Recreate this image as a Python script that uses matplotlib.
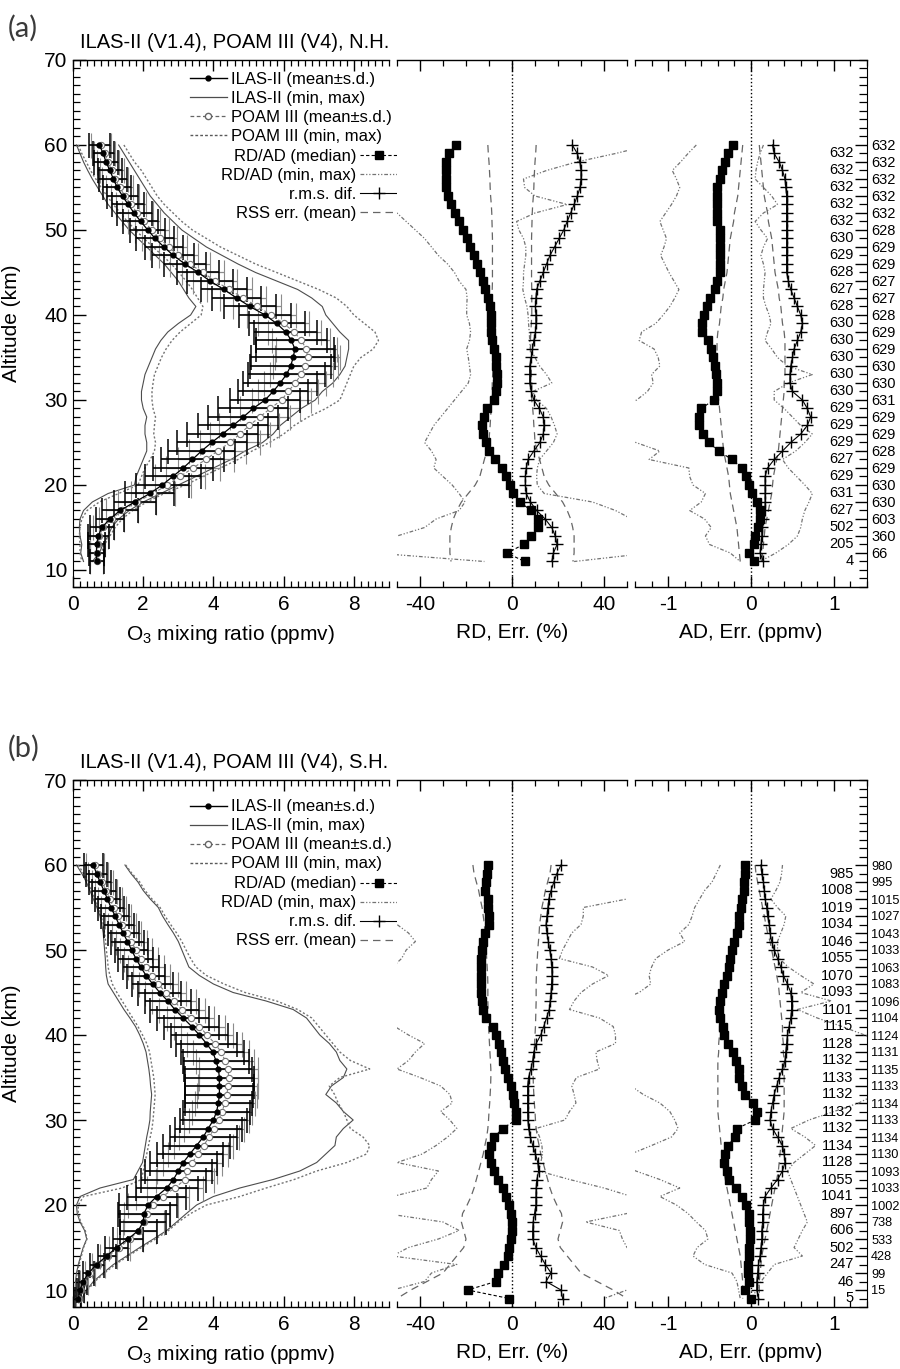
import numpy as np
import matplotlib
matplotlib.use("Agg")
import matplotlib.pyplot as plt
from matplotlib.lines import Line2D
from matplotlib.ticker import MultipleLocator, FixedLocator
from matplotlib.transforms import blended_transform_factory

plt.rcParams['font.family'] = ['Liberation Sans', 'DejaVu Sans']
plt.rcParams['mathtext.default'] = 'regular'
plt.rcParams['axes.unicode_minus'] = False

# ---------------- (a) northern hemisphere ----------------
alt_a = np.arange(60, 10, -1)          # 60 ... 11 km

ilas_a = [0.75, 0.86, 0.94, 1.05, 1.15, 1.26, 1.41, 1.57, 1.74, 1.93,
          2.13, 2.34, 2.59, 2.86, 3.19, 3.57, 3.9, 4.3, 4.66, 5.04,
          5.47, 5.8, 6.06, 6.22, 6.32, 6.27, 6.2, 6.08, 5.9, 5.7,
          5.47, 5.13, 4.85, 4.56, 4.26, 3.95, 3.66, 3.4, 3.14, 2.84,
          2.54, 2.19, 1.76, 1.34, 1.05, 0.82, 0.72, 0.67, 0.67, 0.67]
ilas_sd_a = [0.3, 0.3, 0.35, 0.35, 0.4, 0.4, 0.45, 0.45, 0.5, 0.5,
             0.5, 0.55, 0.55, 0.6, 0.6, 0.6, 0.65, 0.65, 0.7, 0.75,
             0.75, 0.8, 0.9, 1.0, 1.1, 1.2, 1.15, 1.1, 1.05, 1.0,
             1.0, 1.0, 1.0, 1.0, 1.0, 1.0, 0.95, 0.9, 0.85, 0.8,
             0.75, 0.7, 0.6, 0.5, 0.4, 0.35, 0.3, 0.25, 0.22, 0.2]
poam_a = [0.8, 0.9, 1.0, 1.1, 1.2, 1.33, 1.48, 1.65, 1.83, 2.03,
          2.24, 2.47, 2.72, 3.0, 3.33, 3.7, 4.05, 4.45, 4.85, 5.25,
          5.65, 6.0, 6.3, 6.5, 6.65, 6.68, 6.62, 6.5, 6.33, 6.13,
          5.94, 5.62, 5.32, 5.02, 4.75, 4.47, 4.12, 3.78, 3.42, 3.05,
          2.68, 2.28, 1.82, 1.4, 1.1, 0.86, 0.75, 0.7, 0.68, 0.67]
poam_sd_a = [0.28, 0.3, 0.32, 0.34, 0.36, 0.38, 0.4, 0.42, 0.44, 0.46,
             0.48, 0.5, 0.52, 0.55, 0.58, 0.6, 0.62, 0.64, 0.66, 0.68,
             0.7, 0.72, 0.76, 0.82, 0.88, 0.92, 0.92, 0.9, 0.88, 0.86,
             0.85, 0.85, 0.85, 0.85, 0.85, 0.85, 0.82, 0.8, 0.76, 0.72,
             0.68, 0.62, 0.55, 0.45, 0.36, 0.3, 0.26, 0.22, 0.2, 0.18]
ilas_min_a = [0.1, 0.2, 0.3, 0.42, 0.55, 0.7, 0.85, 1.0, 1.2, 1.4,
              1.6, 1.85, 2.1, 2.35, 2.6, 2.8, 3.0, 3.15, 3.3, 3.5,
              3.35, 3.0, 2.7, 2.5, 2.35, 2.25, 2.15, 2.05, 2.0, 1.95,
              1.95, 2.0, 2.1, 2.05, 2.05, 2.1, 2.1, 2.0, 1.9, 1.8,
              1.75, 1.0, 0.55, 0.3, 0.2, 0.18, 0.2, 0.25, 0.22, 0.3]
ilas_max_a = [1.3, 1.45, 1.6, 1.75, 1.9, 2.05, 2.2, 2.4, 2.6, 2.85,
              3.1, 3.45, 3.8, 4.25, 4.7, 5.2, 5.8, 6.4, 6.8, 7.1,
              7.2, 7.4, 7.6, 7.85, 7.85, 7.8, 7.75, 7.6, 7.4, 7.1,
              6.9, 6.5, 6.2, 5.9, 5.7, 5.4, 4.9, 4.5, 4.0, 3.5,
              3.0, 2.5, 2.0, 1.6, 1.3, 1.1, 1.0, 0.85, 0.75, 0.55]
poam_min_a = [0.15, 0.25, 0.38, 0.5, 0.65, 0.8, 0.97, 1.15, 1.35, 1.55,
              1.78, 2.02, 2.28, 2.55, 2.8, 3.02, 3.22, 3.4, 3.55, 3.7,
              3.65, 3.35, 3.05, 2.82, 2.65, 2.52, 2.42, 2.32, 2.28, 2.25,
              2.25, 2.28, 2.35, 2.32, 2.3, 2.35, 2.32, 2.2, 2.05, 1.95,
              1.85, 1.3, 0.75, 0.4, 0.25, 0.2, 0.18, 0.2, 0.2, 0.25]
poam_max_a = [1.45, 1.6, 1.75, 1.95, 2.1, 2.25, 2.4, 2.6, 2.85, 3.1,
              3.4, 3.8, 4.2, 4.7, 5.2, 5.8, 6.4, 7.0, 7.5, 7.8,
              8.0, 8.3, 8.6, 8.7, 8.55, 8.2, 8.0, 7.9, 7.8, 7.7,
              7.6, 7.2, 6.7, 6.3, 6.0, 5.6, 5.1, 4.7, 4.2, 3.7,
              3.2, 2.6, 2.1, 1.7, 1.4, 1.2, 1.05, 0.9, 0.8, 0.6]

rd_med_a = [-24.4, -27.6, -28.9, -28.9, -28.9, -28.5, -27.8, -26.5, -25.0, -23.0,
            -21.2, -19.7, -18.2, -16.7, -15.1, -13.8, -12.7, -11.9, -10.5, -9.6,
            -9.3, -9.3, -9.3, -8.9, -7.9, -7.1, -6.8, -6.7, -6.7, -7.1,
            -8.0, -11.0, -12.3, -13.0, -12.6, -11.5, -10.0, -7.5, -4.5, -2.5,
            -1.0, 0.3, 3.3, 8.4, 11.4, 11.4, 8.4, 5.0, -2.2, 5.5]
rd_rms_a = [26.2, 28.4, 29.5, 30.0, 30.0, 29.6, 28.4, 27.0, 25.5, 24.0,
            22.5, 20.5, 18.5, 16.5, 15.0, 13.6, 12.1, 10.7, 10.4, 10.2,
            10.4, 10.4, 10.2, 9.5, 8.9, 8.4, 7.7, 7.7, 7.7, 8.4,
            9.5, 11.9, 13.6, 13.9, 13.6, 12.1, 9.5, 7.0, 6.2, 5.8,
            5.8, 6.2, 8.0, 10.7, 14.4, 17.3, 18.8, 19.6, 18.0, 17.3]
rd_rss_a = [10.5, 10.3, 10.0, 9.8, 9.6, 9.5, 9.3, 9.0, 8.8, 8.7,
            8.6, 8.5, 8.5, 8.5, 8.5, 8.5, 8.5, 8.6, 8.6, 8.6,
            8.6, 8.4, 8.2, 8.0, 8.0, 8.0, 8.2, 8.4, 8.6, 8.6,
            8.6, 9.0, 9.3, 9.5, 9.8, 10.0, 11.0, 12.0, 13.0, 14.0,
            16.0, 19.0, 22.0, 24.0, 25.5, 26.4, 27.0, 27.0, 27.0, 26.5]
rd_min_a = [-80, -80, -80, -80, -80, -75, -65, -53, -50, -46,
            -42, -38, -35, -32, -28, -25, -23, -20, -19.5, -19.7,
            -19.7, -18.5, -18, -18.5, -19.7, -19, -18.5, -18, -19, -22,
            -25, -28, -31, -34, -36, -38, -35, -33, -34, -30,
            -26, -23, -20.4, -23, -33, -38, -50, -60, -60, -12]
rd_max_a = [60, 45, 28, 15, 5, 5.5, 10, 24, 10, 2,
            3, 5, 6, 6, 5.5, 5, 5, 4.7, 5.5, 6.5,
            7, 7.2, 7.5, 7.7, 8, 10, 12, 15, 17.3, 9,
            10.7, 15, 17, 18.5, 19.6, 18, 15, 12, 11, 10.7,
            11, 14, 35, 45, 52, 60, 60, 60, 60, 27]

ad_med_a = [-0.22, -0.28, -0.31, -0.35, -0.38, -0.41, -0.41, -0.41, -0.41, -0.41,
            -0.38, -0.37, -0.37, -0.37, -0.37, -0.38, -0.41, -0.43, -0.50, -0.53,
            -0.57, -0.59, -0.59, -0.52, -0.48, -0.46, -0.44, -0.42, -0.41, -0.41,
            -0.45, -0.60, -0.63, -0.63, -0.58, -0.51, -0.39, -0.23, -0.11, -0.06,
            -0.03, 0.01, 0.07, 0.11, 0.11, 0.09, 0.05, 0.04, -0.03, 0.04]
ad_rms_a = [0.26, 0.28, 0.34, 0.38, 0.41, 0.42, 0.43, 0.43, 0.43, 0.43,
            0.43, 0.43, 0.43, 0.43, 0.43, 0.43, 0.45, 0.48, 0.52, 0.56,
            0.60, 0.62, 0.60, 0.56, 0.52, 0.50, 0.48, 0.47, 0.47, 0.50,
            0.62, 0.68, 0.72, 0.68, 0.60, 0.48, 0.38, 0.28, 0.20, 0.17,
            0.17, 0.17, 0.17, 0.17, 0.15, 0.13, 0.13, 0.12, 0.11, 0.15]
ad_rss_a = [0.10, 0.11, 0.12, 0.13, 0.14, 0.15, 0.16, 0.18, 0.20, 0.21,
            0.23, 0.25, 0.26, 0.27, 0.28, 0.29, 0.31, 0.33, 0.34, 0.36,
            0.37, 0.38, 0.40, 0.41, 0.41, 0.41, 0.41, 0.41, 0.40, 0.40,
            0.39, 0.38, 0.37, 0.36, 0.35, 0.34, 0.33, 0.31, 0.29, 0.27,
            0.26, 0.25, 0.23, 0.21, 0.19, 0.17, 0.16, 0.15, 0.14, 0.13]
ad_min_a = [-0.66, -0.76, -0.85, -0.95, -0.90, -0.86, -0.90, -0.96, -1.03, -1.10,
            -1.06, -1.02, -1.05, -1.09, -1.04, -0.99, -0.93, -0.87, -0.92, -0.98,
            -1.06, -1.15, -1.32, -1.35, -1.17, -1.12, -1.10, -1.20, -1.18, -1.25,
            -1.38, -1.6, -1.7, -1.7, -1.6, -1.39, -1.10, -1.23, -0.75, -0.74,
            -0.70, -0.55, -0.60, -0.74, -0.56, -0.48, -0.55, -0.50, -0.25, -0.13]
ad_max_a = [0.15, 0.11, 0.08, 0.06, 0.05, 0.15, 0.25, 0.32, 0.15, 0.05,
            0.12, 0.20, 0.15, 0.12, 0.15, 0.17, 0.16, 0.15, 0.15, 0.18,
            0.22, 0.24, 0.20, 0.17, 0.25, 0.32, 0.44, 0.74, 0.45, 0.28,
            0.28, 0.40, 0.50, 0.60, 0.74, 0.65, 0.54, 0.38, 0.45, 0.55,
            0.65, 0.74, 0.70, 0.65, 0.62, 0.60, 0.56, 0.45, 0.30, 0.11]

outer_alt_a = np.arange(60, 11, -2)
outer_n_a = [632, 632, 632, 632, 632, 628, 629, 629, 627, 627, 628, 629, 629,
             630, 630, 631, 629, 629, 628, 629, 630, 630, 603, 360, 66]
inner_alt_a = np.arange(59, 10, -2)
inner_n_a = [632, 632, 632, 632, 632, 630, 629, 628, 627, 628, 630, 630, 630,
             630, 630, 629, 629, 629, 627, 629, 631, 627, 502, 205, 4]

# ---------------- (b) southern hemisphere ----------------
alt_b = np.arange(60, 8, -1)           # 60 ... 9 km

ilas_b = [0.58, 0.67, 0.77, 0.88, 0.98, 1.08, 1.20, 1.31, 1.43, 1.55,
          1.67, 1.79, 1.93, 2.08, 2.27, 2.47, 2.70, 2.90, 3.14, 3.38,
          3.60, 3.80, 3.98, 4.07, 4.14, 4.17, 4.17, 4.17, 4.14, 4.09,
          4.00, 3.85, 3.71, 3.52, 3.33, 3.14, 3.00, 2.86, 2.67, 2.38,
          2.14, 2.02, 2.00, 1.86, 1.57, 1.24, 0.96, 0.67, 0.44, 0.29,
          0.20, 0.15]
ilas_sd_b = [0.28, 0.3, 0.32, 0.34, 0.36, 0.38, 0.4, 0.42, 0.44, 0.46,
             0.48, 0.5, 0.52, 0.55, 0.58, 0.62, 0.66, 0.7, 0.74, 0.78,
             0.82, 0.86, 0.9, 0.94, 0.97, 0.98, 0.98, 0.97, 0.96, 0.95,
             0.95, 0.95, 0.95, 0.95, 0.95, 0.95, 0.95, 0.92, 0.88, 0.85,
             0.82, 0.75, 0.65, 0.52, 0.42, 0.33, 0.26, 0.2, 0.15, 0.12,
             0.1, 0.08]
poam_b = [0.62, 0.72, 0.83, 0.94, 1.05, 1.16, 1.28, 1.40, 1.53, 1.66,
          1.79, 1.93, 2.08, 2.24, 2.43, 2.64, 2.88, 3.10, 3.35, 3.60,
          3.82, 4.04, 4.22, 4.33, 4.42, 4.43, 4.42, 4.38, 4.32, 4.25,
          4.15, 4.02, 3.88, 3.72, 3.56, 3.40, 3.25, 3.19, 2.90, 2.55,
          2.28, 2.10, 2.02, 1.88, 1.62, 1.32, 1.00, 0.72, 0.48, 0.32,
          0.22, 0.16]
poam_sd_b = [0.26, 0.28, 0.3, 0.32, 0.34, 0.36, 0.38, 0.4, 0.42, 0.44,
             0.46, 0.48, 0.5, 0.52, 0.55, 0.58, 0.62, 0.65, 0.68, 0.72,
             0.75, 0.78, 0.8, 0.82, 0.84, 0.85, 0.85, 0.85, 0.85, 0.85,
             0.85, 0.85, 0.85, 0.85, 0.85, 0.85, 0.85, 0.82, 0.8, 0.76,
             0.72, 0.66, 0.58, 0.47, 0.38, 0.3, 0.24, 0.18, 0.14, 0.11,
             0.09, 0.07]
ilas_min_b = [0.1, 0.25, 0.38, 0.48, 0.58, 0.68, 0.77, 0.82, 0.86, 0.88,
              0.9, 0.92, 0.93, 0.95, 1.0, 1.15, 1.3, 1.45, 1.62, 1.78,
              1.9, 2.0, 2.08, 2.12, 2.16, 2.19, 2.21, 2.24, 2.22, 2.2,
              2.19, 2.15, 2.1, 2.06, 2.02, 1.98, 1.85, 1.72, 0.77, 0.2,
              0.1, 0.12, 0.2, 0.33, 0.39, 0.29, 0.22, 0.15, 0.1, 0.07,
              0.06, 0.05]
ilas_max_b = [1.48, 1.65, 1.85, 2.0, 2.2, 2.43, 2.55, 2.7, 2.86, 3.0,
              3.1, 3.2, 3.3, 3.6, 4.0, 4.56, 5.5, 6.27, 6.65, 6.84,
              7.03, 7.3, 7.5, 7.6, 7.8, 7.7, 7.36, 7.2, 7.5, 7.7,
              7.98, 7.7, 7.5, 7.46, 7.2, 6.94, 6.46, 5.7, 4.75, 4.0,
              3.52, 3.23, 2.95, 2.67, 2.29, 1.9, 1.53, 1.15, 0.86, 0.58,
              0.39, 0.25]
poam_min_b = [0.15, 0.3, 0.42, 0.52, 0.62, 0.72, 0.8, 0.86, 0.9, 0.93,
              0.95, 0.98, 1.0, 1.05, 1.12, 1.25, 1.4, 1.55, 1.7, 1.85,
              1.98, 2.1, 2.18, 2.22, 2.26, 2.3, 2.32, 2.34, 2.32, 2.3,
              2.28, 2.25, 2.2, 2.15, 2.1, 2.05, 2.0, 1.95, 1.4, 0.3,
              0.15, 0.15, 0.22, 0.35, 0.4, 0.3, 0.24, 0.17, 0.12, 0.08,
              0.07, 0.06]
poam_max_b = [1.5, 1.68, 1.9, 2.05, 2.25, 2.48, 2.62, 2.78, 2.95, 3.1,
              3.22, 3.35, 3.5, 3.8, 4.3, 4.9, 5.8, 6.4, 6.8, 7.0,
              7.2, 7.4, 7.6, 7.9, 8.45, 7.6, 7.3, 7.45, 7.55, 7.7,
              7.8, 7.9, 8.26, 8.45, 8.36, 7.8, 6.94, 6.3, 5.5, 4.75,
              3.8, 3.35, 3.0, 2.72, 2.35, 1.95, 1.58, 1.2, 0.9, 0.62,
              0.42, 0.28]

rd_med_b = [-10.6, -11.0, -11.3, -11.6, -10.6, -10.6, -10.0, -9.9, -11.6, -12.5,
            -13.0, -13.5, -13.5, -13.5, -13.5, -13.5, -13.2, -12.8, -11.3, -8.4,
            -7.0, -5.5, -4.8, -4.1, -2.9, -1.9, -0.4, 0.3, 1.0, 1.7,
            1.7, -4.1, -7.7, -9.1, -9.9, -9.1, -7.7, -6.2, -4.1, -2.6,
            -1.2, -0.4, 0.0, 0.0, -0.4, -1.2, -1.9, -3.3, -6.2, -7.0,
            -19.3, -1.2]
rd_rms_b = [21.3, 19.5, 18.2, 17.0, 16.0, 15.6, 15.2, 14.8, 15.2, 15.8,
            16.4, 17.0, 17.3, 17.4, 17.2, 17.0, 16.6, 16.2, 15.0, 13.8,
            12.5, 10.5, 9.5, 9.0, 8.2, 7.2, 6.8, 6.8, 6.8, 6.8,
            6.9, 7.2, 8.0, 9.0, 10.2, 11.2, 11.6, 10.8, 10.5, 10.4,
            10.4, 9.8, 9.2, 9.0, 9.0, 10.4, 12.4, 14.5, 17.0, 14.8,
            21.3, 22.0]
rd_rss_b = [17, 16.5, 15.5, 14.5, 13.8, 13.0, 12.5, 12.0, 11.8, 11.5,
            11.2, 11.0, 10.8, 10.6, 10.5, 10.5, 10.5, 10.4, 10.3, 10.2,
            10.0, 9.8, 9.6, 9.4, 9.2, 9.2, 9.3, 9.5, 9.7, 10.0,
            10.2, 10.5, 11.0, 11.8, 12.5, 13.5, 14.5, 15.5, 16.5, 17.8,
            19.5, 21.5, 22.0, 21.0, 20.0, 21.0, 24.0, 27.0, 30.0, 37.0,
            44.0, 50.0]
rd_min_b = [-70, -70, -70, -70, -65, -60, -55, -50, -45, -42,
            -46, -48, -52, -60, -65, -65, -65, -60, -55, -51,
            -45, -38, -42, -45, -50, -40, -31, -27, -26, -31,
            -27, -24, -28, -33, -39, -50, -32, -35, -37, -52,
            -60, -55, -30, -23, -32, -45, -52, -24, -35, -38,
            -52, -60]
rd_max_b = [70, 70, 70, 65, 50, 31, 31, 30, 26, 24,
            22, 20.6, 35, 42, 35, 30, 27, 25, 38, 44,
            45, 45, 36.5, 37, 38, 28, 26, 27, 27.8, 25,
            23, 10.4, 12, 13, 13.3, 12.5, 11.6, 25, 40, 52,
            60, 50, 32, 46.7, 48, 50, 55, 60, 60, 55,
            50, 40]

ad_med_b = [-0.07, -0.07, -0.08, -0.09, -0.11, -0.12, -0.15, -0.14, -0.17, -0.20,
            -0.23, -0.25, -0.27, -0.29, -0.33, -0.35, -0.38, -0.39, -0.37, -0.34,
            -0.33, -0.28, -0.22, -0.18, -0.15, -0.14, -0.11, -0.07, 0.02, 0.07,
            0.05, -0.17, -0.19, -0.28, -0.31, -0.32, -0.29, -0.26, -0.18, -0.11,
            -0.06, -0.02, -0.02, -0.01, -0.01, -0.02, -0.03, -0.04, -0.04, -0.02,
            -0.07, 0.00]
ad_rms_b = [0.12, 0.13, 0.15, 0.16, 0.17, 0.19, 0.20, 0.22, 0.23, 0.25,
            0.28, 0.32, 0.36, 0.39, 0.44, 0.48, 0.49, 0.49, 0.48, 0.46,
            0.44, 0.43, 0.42, 0.41, 0.38, 0.34, 0.31, 0.28, 0.26, 0.24,
            0.23, 0.26, 0.32, 0.38, 0.40, 0.41, 0.38, 0.32, 0.24, 0.17,
            0.15, 0.14, 0.14, 0.13, 0.13, 0.12, 0.11, 0.09, 0.08, 0.07,
            0.07, 0.09]
ad_rss_b = [0.05, 0.06, 0.08, 0.10, 0.12, 0.14, 0.16, 0.18, 0.20, 0.23,
            0.25, 0.27, 0.29, 0.31, 0.33, 0.34, 0.35, 0.36, 0.37, 0.38,
            0.38, 0.39, 0.39, 0.40, 0.40, 0.40, 0.40, 0.40, 0.40, 0.40,
            0.39, 0.38, 0.37, 0.36, 0.35, 0.34, 0.33, 0.31, 0.29, 0.27,
            0.25, 0.23, 0.21, 0.19, 0.17, 0.15, 0.13, 0.12, 0.11, 0.10,
            0.10, 0.10]
ad_min_b = [-0.37, -0.42, -0.47, -0.56, -0.62, -0.68, -0.71, -0.75, -0.86, -0.80,
            -1.00, -1.15, -1.20, -1.23, -1.21, -1.35, -1.6, -1.7, -1.7, -1.7,
            -1.7, -1.7, -1.7, -1.7, -1.7, -1.6, -1.45, -1.30, -1.10, -0.98,
            -0.92, -0.88, -0.96, -1.2, -1.45, -1.6, -1.39, -1.10, -0.86, -1.10,
            -0.90, -0.76, -0.66, -0.55, -0.52, -0.65, -0.70, -0.56, -0.23, -0.17,
            -0.15, -0.13]
ad_max_b = [0.38, 0.37, 0.35, 0.30, 0.24, 0.32, 0.42, 0.40, 0.36, 0.32,
            0.32, 0.34, 0.45, 0.60, 0.76, 0.60, 0.97, 0.56, 0.80, 1.10,
            1.37, 1.6, 1.6, 1.6, 1.6, 1.6, 1.6, 1.5, 1.3, 1.0,
            0.70, 0.48, 0.65, 0.78, 0.65, 0.52, 0.44, 0.48, 0.52, 0.56,
            0.60, 0.64, 0.68, 0.62, 0.57, 0.52, 0.62, 0.28, 0.20, 0.12,
            0.07, 0.0]

outer_alt_b = np.arange(60, 9, -2)
outer_n_b = [980, 995, 1015, 1027, 1043, 1033, 1063, 1083, 1096, 1104, 1124, 1131, 1135,
             1133, 1134, 1133, 1134, 1130, 1093, 1033, 1002, 738, 533, 428, 99, 15]
inner_alt_b = np.arange(59, 8, -2)
inner_n_b = [985, 1008, 1019, 1034, 1046, 1055, 1070, 1093, 1101, 1115, 1128, 1132, 1133,
             1132, 1132, 1132, 1134, 1128, 1055, 1041, 897, 606, 502, 247, 46, 5]

# ---------------- styles ----------------
MINMAX_RD = dict(color='0.45', lw=0.9, ls=(0, (3, 1.5, 1, 1.5, 1, 1.5)))
RSS_STYLE = dict(color='0.4', lw=0.9, ls=(0, (6, 4)))
MED_STYLE = dict(color='k', lw=0.8, ls=(0, (3, 2)), marker='s', ms=5.5)
RMS_STYLE = dict(color='k', lw=0.8, marker='+', ms=9, mew=1.0)

FIG_W, FIG_H = 900, 1369


def fx(px):
    return px / FIG_W


def fy(px):
    return 1 - px / FIG_H


def style_axis(ax, left=False, right=False):
    ax.set_ylim(8, 70)
    for side in ('top', 'bottom'):
        ax.spines[side].set_linewidth(1.0)
    ax.spines['left'].set_visible(left)
    ax.spines['right'].set_visible(right)
    ax.tick_params(axis='x', which='both', direction='in', top=True, bottom=True,
                   labelsize=15, pad=6)
    ax.tick_params(axis='x', which='major', length=8, width=1)
    ax.tick_params(axis='x', which='minor', length=4.5, width=0.9)


def draw_row(top_px, tag, title, alt, ilas, ilas_sd, poam, poam_sd,
             ilas_min, ilas_max, poam_min, poam_max,
             rd_med, rd_rms, rd_rss, rd_min, rd_max,
             ad_med, ad_rms, ad_rss, ad_min, ad_max,
             outer_alt, outer_n, inner_alt, inner_n, leg_top, right_fs):
    bottom_px = top_px + 527
    h = (bottom_px - top_px) / FIG_H
    y0 = fy(bottom_px)

    # ---- O3 profile panel ----
    ax = fig.add_axes([fx(73), y0, fx(316), h])
    style_axis(ax, left=True)
    ax.plot(ilas_min, alt, color='0.3', lw=0.8)
    ax.plot(ilas_max, alt, color='0.3', lw=0.8)
    ax.plot(poam_min, alt, color='0.45', lw=1.0, ls=(0, (1.5, 1.5)))
    ax.plot(poam_max, alt, color='0.45', lw=1.0, ls=(0, (1.5, 1.5)))
    ax.errorbar(poam, alt, xerr=poam_sd, color='0.5', lw=0.8, ls=(0, (3, 2)),
                marker='o', ms=4.5, mfc='white', mec='0.45', mew=0.8,
                elinewidth=0.9, capsize=9, capthick=0.9, ecolor='0.55')
    ax.errorbar(ilas, alt, xerr=ilas_sd, color='k', lw=0.9, marker='o', ms=3.5,
                elinewidth=1.2, capsize=9, capthick=1.1, ecolor='k')
    ax.set_xlim(0, 9)
    ax.xaxis.set_major_locator(MultipleLocator(2))
    ax.xaxis.set_minor_locator(MultipleLocator(0.2))
    ax.yaxis.set_minor_locator(MultipleLocator(1))
    ax.set_yticks([10, 20, 30, 40, 50, 60, 70])
    ax.tick_params(axis='y', which='both', direction='in', left=True, right=False,
                   labelsize=15, pad=4)
    ax.tick_params(axis='y', which='major', length=9, width=1)
    ax.tick_params(axis='y', which='minor', length=5, width=0.9)
    ax.set_xlabel('O$_3$ mixing ratio (ppmv)', fontsize=15, labelpad=6)
    ax.set_ylabel('Altitude (km)', fontsize=15)
    ax.yaxis.set_label_coords(-0.165, 0.5)

    # legend: two blocks, the second with its handles on the right
    h1 = [Line2D([], [], color='k', lw=1.0, marker='o', ms=3.5),
          Line2D([], [], color='0.3', lw=0.9),
          Line2D([], [], color='0.4', lw=0.9, ls=(0, (3, 2)), marker='o', ms=4.5,
                 mfc='white', mec='0.4'),
          Line2D([], [], color='0.35', lw=1.0, ls=(0, (2, 1.5)))]
    l1 = ax.legend(h1, ['ILAS-II (mean±s.d.)', 'ILAS-II (min, max)',
                        'POAM III (mean±s.d.)', 'POAM III (min, max)'],
                   loc='upper left', bbox_to_anchor=(0.37, leg_top), frameon=False,
                   fontsize=12, handlelength=2.2, handletextpad=0.25,
                   labelspacing=0.24, borderpad=0, borderaxespad=0)
    ax.add_artist(l1)
    h2 = [Line2D([], [], **MED_STYLE),
          Line2D([], [], **MINMAX_RD),
          Line2D([], [], **RMS_STYLE),
          Line2D([], [], **RSS_STYLE)]
    ax.legend(h2, ['RD/AD (median)', 'RD/AD (min, max)', 'r.m.s. dif.', 'RSS err. (mean)'],
              loc='upper right', bbox_to_anchor=(1.025, leg_top - 0.146), frameon=False,
              fontsize=12, handlelength=2.2, handletextpad=0.25, markerfirst=False,
              labelspacing=0.24, borderpad=0, borderaxespad=0)

    # ---- RD panel ----
    ax2 = fig.add_axes([fx(397), y0, fx(230), h])
    style_axis(ax2)
    ax2.plot(rd_min, alt, **MINMAX_RD)
    ax2.plot(rd_max, alt, **MINMAX_RD)
    ax2.plot(np.negative(rd_rss), alt, **RSS_STYLE)
    ax2.plot(rd_rss, alt, **RSS_STYLE)
    ax2.axvline(0, color='k', ls=':', lw=1.0)
    ax2.plot(rd_rms, alt, **RMS_STYLE)
    ax2.plot(rd_med, alt, **MED_STYLE)
    ax2.set_xlim(-50, 50)
    ax2.set_xticks([-40, 0, 40])
    ax2.xaxis.set_minor_locator(MultipleLocator(10))
    ax2.set_yticks([])
    ax2.set_xlabel('RD, Err. (%)', fontsize=15, labelpad=6)

    # ---- AD panel ----
    ax3 = fig.add_axes([fx(635), y0, fx(232), h])
    style_axis(ax3, right=True)
    ax3.plot(ad_min, alt, **MINMAX_RD)
    ax3.plot(ad_max, alt, **MINMAX_RD)
    ax3.plot(np.negative(ad_rss), alt, **RSS_STYLE)
    ax3.plot(ad_rss, alt, **RSS_STYLE)
    ax3.axvline(0, color='k', ls=':', lw=1.0)
    ax3.plot(ad_rms, alt, **RMS_STYLE)
    ax3.plot(ad_med, alt, **MED_STYLE)
    ax3.set_xlim(-1.4, 1.4)
    ax3.set_xticks([-1, 0, 1])
    ax3.xaxis.set_minor_locator(MultipleLocator(0.2))
    ax3.set_xlabel('AD, Err. (ppmv)', fontsize=15, labelpad=6)
    ax3.yaxis.set_ticks_position('right')
    ax3.yaxis.set_major_locator(FixedLocator(outer_alt))
    ax3.set_yticklabels([str(n) for n in outer_n])
    ax3.yaxis.set_minor_locator(MultipleLocator(1))
    ax3.tick_params(axis='y', which='major', direction='in', length=9, width=1,
                    labelsize=right_fs, pad=3)
    ax3.tick_params(axis='y', which='minor', direction='in', length=5.5, width=0.9)
    tr = blended_transform_factory(ax3.transAxes, ax3.transData)
    for a, n in zip(inner_alt, inner_n):
        ax3.text(0.942, a, str(n), transform=tr, ha='right', va='center', fontsize=10.5)

    # ---- titles ----
    fig.text(fx(80), fy(top_px - 18), title, fontsize=14.5, ha='left', va='center')
    fig.text(fx(8), fy(top_px - 32), tag, fontsize=21, ha='left', va='center',
             color='#3a3a3a', family=['Lato', 'DejaVu Sans'])


fig = plt.figure(figsize=(FIG_W / 100, FIG_H / 100), dpi=100)

draw_row(60, '(a)', 'ILAS-II (V1.4), POAM III (V4), N.H.', alt_a,
         ilas_a, ilas_sd_a, poam_a, poam_sd_a,
         ilas_min_a, ilas_max_a, poam_min_a, poam_max_a,
         rd_med_a, rd_rms_a, rd_rss_a, rd_min_a, rd_max_a,
         ad_med_a, ad_rms_a, ad_rss_a, ad_min_a, ad_max_a,
         outer_alt_a, outer_n_a, inner_alt_a, inner_n_a, 0.978, 10.5)

draw_row(780, '(b)', 'ILAS-II (V1.4), POAM III (V4), S.H.', alt_b,
         ilas_b, ilas_sd_b, poam_b, poam_sd_b,
         ilas_min_b, ilas_max_b, poam_min_b, poam_max_b,
         rd_med_b, rd_rms_b, rd_rss_b, rd_min_b, rd_max_b,
         ad_med_b, ad_rms_b, ad_rss_b, ad_min_b, ad_max_b,
         outer_alt_b, outer_n_b, inner_alt_b, inner_n_b, 0.963, 9.2)

fig.savefig('out.png', dpi=100)
